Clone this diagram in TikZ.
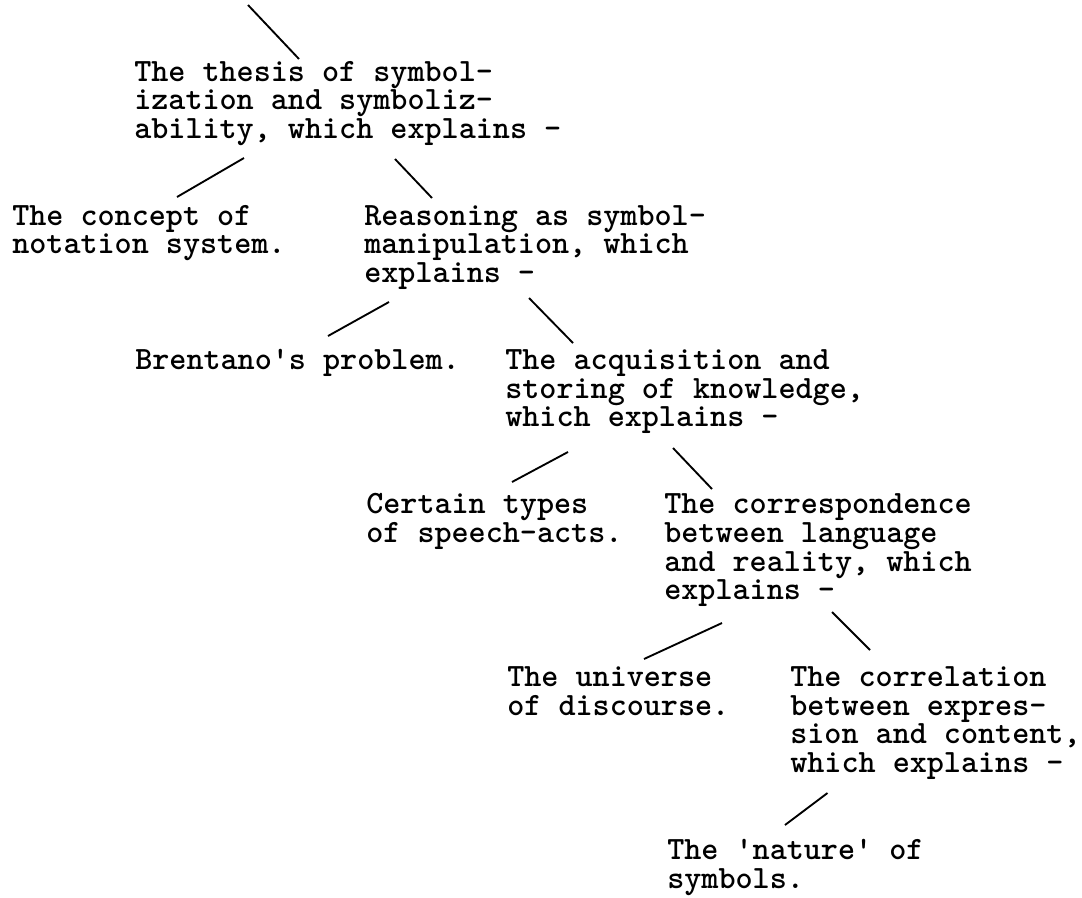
\documentclass[tikz,border=0pt]{standalone}
\begin{document}
\begin{tikzpicture}[x=0.75pt,y=-0.75pt,
		every node/.style={font=\ttfamily\bfseries\fontsize{24.4pt}{21.6pt}\selectfont, align=left, inner sep=0pt, anchor=base west},
		branch/.style={line width=1.4pt}]

		\useasboundingbox (0,0) rectangle (1082,897);

		% each node sits on the baseline of its last line
		\node (thesis) at (134,138.6) {The thesis of symbol-\\ization and symboliz-\\ability, which explains -};
		\node (concept) at (12,253.9) {The concept of\\notation system.};
		\node (reasoning) at (364,282.7) {Reasoning as symbol-\\manipulation, which\\explains -};
		\node (brentano) at (135,369.2) {Brentano\textquotesingle s problem.};
		\node (acquisition) at (505,426.8) {The acquisition and\\storing of knowledge,\\which explains -};
		\node (speechacts) at (366,542.1) {Certain types\\of speech-acts.};
		\node (correspondence) at (664,599.8) {The correspondence\\between language\\and reality, which\\explains -};
		\node (universe) at (507,715) {The universe\\of discourse.};
		\node (correlation) at (790,772.7) {The correlation\\between expres-\\sion and content,\\which explains -};
		\node (nature) at (667,888) {The \textquotesingle nature\textquotesingle{} of\\symbols.};

		\coordinate (top) at (248,5);
		\coordinate (thesis-in) at (299,59);
		\coordinate (thesis-l) at (244,158);
		\coordinate (thesis-r) at (395,159);
		\coordinate (concept-in) at (177,197);
		\coordinate (reasoning-in) at (432,198);
		\coordinate (reasoning-l) at (389,302);
		\coordinate (reasoning-r) at (529,298);
		\coordinate (brentano-in) at (328,336);
		\coordinate (acquisition-in) at (573,343);
		\coordinate (acquisition-l) at (568,452);
		\coordinate (acquisition-r) at (673,448);
		\coordinate (speechacts-in) at (512,482);
		\coordinate (correspondence-in) at (712,489);
		\coordinate (correspondence-l) at (722,623);
		\coordinate (correspondence-r) at (832,612);
		\coordinate (universe-in) at (644,659);
		\coordinate (correlation-in) at (870,650);
		\coordinate (correlation-l) at (827.5,793);
		\coordinate (nature-in) at (785,825);

		\draw[branch] (top) -- (thesis-in);
		\draw[branch] (thesis-l) -- (concept-in);
		\draw[branch] (thesis-r) -- (reasoning-in);
		\draw[branch] (reasoning-l) -- (brentano-in);
		\draw[branch] (reasoning-r) -- (acquisition-in);
		\draw[branch] (acquisition-l) -- (speechacts-in);
		\draw[branch] (acquisition-r) -- (correspondence-in);
		\draw[branch] (correspondence-l) -- (universe-in);
		\draw[branch] (correspondence-r) -- (correlation-in);
		\draw[branch] (correlation-l) -- (nature-in);

	\end{tikzpicture}
\end{document}
